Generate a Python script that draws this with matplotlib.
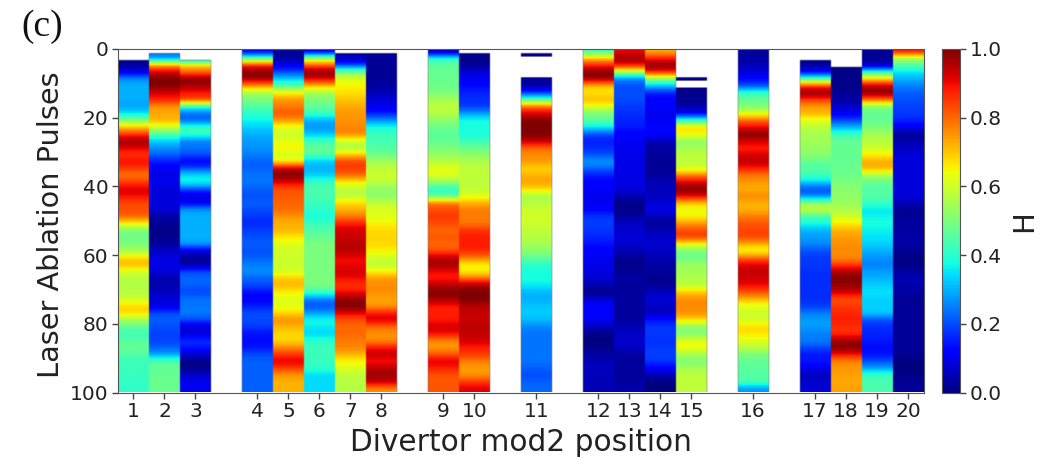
#!/usr/bin/env python3
# -*- coding=utf-8 -*-

import matplotlib
matplotlib.use('Agg')
import matplotlib.pyplot as plt
import numpy as np

# H value per 2-pulse bin (pulses 0-100)
c1 = [0.02,0.02,0.02,0.1,0.27,0.3,0.3,0.3,0.28,0.35, 0.5,0.7,0.85,0.98,0.92,0.85,0.9,0.85,0.78,0.85,
      0.92,0.9,0.83,0.83,0.8,0.65,0.5,0.48,0.5,0.55, 0.68,0.72,0.6,0.57,0.57,0.57,0.6,0.68,0.68,0.55,
      0.47,0.42,0.45,0.48,0.45,0.42,0.42,0.42,0.41,0.41]
c2 = [0.25,0.25,0.75,0.93,1.0,1.0,0.92,0.88,0.75,0.73, 0.72,0.6,0.45,0.33,0.27,0.22,0.15,0.1,0.09,0.1,
      0.08,0.08,0.08,0.08,0.03,0.02,0.01,0.01,0.03,0.06, 0.09,0.09,0.08,0.04,0.04,0.06,0.08,0.08,0.2,0.22,
      0.2,0.19,0.19,0.22,0.28,0.45,0.47,0.47,0.48,0.48]
c3 = [0.2,0.2,0.7,0.8,1.0,0.97,0.88,0.85,0.4,0.23, 0.22,0.42,0.42,0.25,0.24,0.2,0.11,0.2,0.35,0.38,
      0.2,0.08,0.1,0.28,0.3,0.3,0.3,0.3,0.28,0.08, 0.02,0.03,0.2,0.23,0.22,0.19,0.24,0.24,0.25,0.2,
      0.07,0.08,0.17,0.15,0.07,0.01,0.01,0.07,0.1,0.1]
c4 = [0.1,0.45,0.88,1.0,0.97,0.75,0.55,0.5,0.45,0.4, 0.37,0.33,0.3,0.28,0.27,0.25,0.22,0.22,0.24,0.24,
      0.22,0.2,0.22,0.2,0.18,0.16,0.19,0.2,0.22,0.2, 0.22,0.25,0.27,0.22,0.2,0.13,0.12,0.15,0.2,0.2,
      0.18,0.14,0.13,0.14,0.2,0.22,0.22,0.22,0.22,0.22]
c5 = [0.02,0.03,0.1,0.2,0.33,0.45,0.65,0.75,0.78,0.82, 0.75,0.62,0.6,0.62,0.66,0.6,0.65,0.95,1.0,0.92,
      0.82,0.82,0.8,0.8,0.75,0.72,0.72,0.66,0.62,0.6, 0.6,0.6,0.6,0.7,0.72,0.65,0.62,0.62,0.68,0.76,
      0.72,0.68,0.68,0.76,0.85,0.92,0.85,0.75,0.72,0.72]
c6 = [0.08,0.55,0.82,1.0,0.92,0.7,0.55,0.5,0.47,0.42, 0.3,0.27,0.32,0.42,0.48,0.45,0.32,0.3,0.33,0.42,
      0.44,0.44,0.42,0.4,0.38,0.42,0.45,0.47,0.5,0.5, 0.5,0.5,0.5,0.5,0.5,0.42,0.25,0.2,0.28,0.38,
      0.36,0.33,0.4,0.42,0.42,0.42,0.41,0.34,0.34,0.34]
c7 = [0.04,0.04,0.2,0.5,0.62,0.65,0.67,0.7,0.73,0.75, 0.75,0.77,0.77,0.6,0.55,0.7,0.84,0.85,0.8,0.65,
      0.58,0.57,0.68,0.72,0.78,0.88,0.93,0.93,0.95,0.95, 0.9,0.9,0.93,0.9,0.85,0.9,0.98,1.0,0.92,0.82,
      0.8,0.8,0.78,0.77,0.72,0.65,0.62,0.58,0.57,0.57]
c8 = [0.02,0.02,0.02,0.02,0.02,0.03,0.05,0.08,0.1,0.15, 0.27,0.38,0.42,0.43,0.45,0.48,0.55,0.58,0.6,0.58,
      0.52,0.52,0.58,0.62,0.62,0.65,0.68,0.68,0.68,0.65, 0.6,0.58,0.65,0.75,0.76,0.76,0.73,0.75,0.88,0.93,
      0.8,0.75,0.76,0.88,0.95,0.88,0.95,0.97,0.95,0.76]
c9 = [0.03,0.4,0.47,0.47,0.48,0.48,0.5,0.55,0.58,0.57, 0.52,0.48,0.46,0.47,0.5,0.53,0.57,0.63,0.62,0.53,
      0.4,0.45,0.78,0.83,0.85,0.83,0.8,0.82,0.8,0.83, 0.95,0.97,0.9,0.88,0.95,1.0,0.97,0.88,0.88,0.88,
      0.93,0.9,0.77,0.74,0.82,0.92,0.88,0.82,0.82,0.82]
c10 = [0.01,0.01,0.02,0.08,0.1,0.13,0.16,0.17,0.18,0.28, 0.38,0.38,0.38,0.42,0.48,0.52,0.56,0.58,0.58,0.58,
       0.58,0.62,0.72,0.78,0.78,0.78,0.86,0.88,0.88,0.87, 0.78,0.65,0.65,0.8,0.97,1.0,1.0,0.95,0.94,0.93,
       0.95,0.94,0.93,0.88,0.85,0.78,0.74,0.75,0.85,0.92]
c11 = [0.02,0.02,0.02,0.02,0.02,0.03,0.18,0.45,0.8,0.92, 1.0,1.0,1.0,0.95,0.8,0.76,0.75,0.68,0.72,0.74,
       0.68,0.55,0.57,0.6,0.6,0.6,0.58,0.57,0.55,0.52, 0.47,0.4,0.38,0.38,0.36,0.3,0.3,0.32,0.33,0.31,
       0.26,0.24,0.24,0.24,0.24,0.24,0.22,0.2,0.22,0.23]
c12 = [0.42,0.7,0.88,1.0,0.97,0.7,0.66,0.72,0.62,0.5, 0.46,0.36,0.2,0.15,0.17,0.2,0.28,0.22,0.15,0.12,
       0.11,0.1,0.1,0.12,0.18,0.18,0.18,0.16,0.14,0.12, 0.1,0.09,0.09,0.07,0.04,0.01,0.07,0.12,0.12,0.1,
       0.06,0.01,0.0,0.01,0.03,0.05,0.06,0.05,0.05,0.05]
c13 = [0.9,0.98,0.9,0.55,0.25,0.2,0.2,0.2,0.18,0.17, 0.16,0.15,0.12,0.1,0.1,0.09,0.09,0.09,0.09,0.09,
       0.08,0.05,0.01,0.01,0.03,0.06,0.07,0.08,0.07,0.05, 0.02,0.01,0.02,0.03,0.03,0.03,0.03,0.03,0.03,0.03,
       0.05,0.06,0.07,0.06,0.03,0.03,0.03,0.03,0.03,0.04]
c14 = [0.72,0.88,1.0,0.88,0.5,0.32,0.15,0.12,0.11,0.1, 0.1,0.14,0.12,0.05,0.03,0.03,0.02,0.02,0.03,0.05,
       0.05,0.06,0.07,0.1,0.05,0.02,0.05,0.07,0.07,0.06, 0.05,0.03,0.03,0.01,0.02,0.06,0.08,0.06,0.05,0.14,
       0.18,0.18,0.17,0.18,0.19,0.18,0.12,0.05,0.0,0.0]
c15 = [0.01,0.01,0.01,0.01,0.01,0.01,0.01,0.02,0.03,0.12, 0.4,0.68,0.65,0.52,0.55,0.58,0.58,0.6,0.78,0.92,
       1.0,0.92,0.7,0.63,0.65,0.75,0.83,0.85,0.63,0.5, 0.47,0.55,0.54,0.57,0.57,0.7,0.76,0.76,0.76,0.68,
       0.52,0.5,0.62,0.65,0.55,0.5,0.55,0.58,0.58,0.58]
c16 = [0.03,0.03,0.05,0.08,0.13,0.2,0.42,0.47,0.5,0.62, 0.8,0.9,1.0,0.93,0.87,0.92,0.95,0.88,0.78,0.75,
       0.72,0.77,0.72,0.72,0.78,0.82,0.84,0.84,0.72,0.63, 0.8,0.92,0.94,0.93,0.9,0.82,0.72,0.62,0.6,0.6,
       0.68,0.67,0.62,0.58,0.5,0.47,0.46,0.45,0.45,0.27]
c17 = [0.02,0.02,0.02,0.12,0.45,0.85,1.0,0.85,0.74,0.72, 0.62,0.58,0.55,0.55,0.53,0.52,0.47,0.45,0.43,0.33,
       0.2,0.25,0.52,0.6,0.43,0.38,0.3,0.28,0.26,0.2, 0.18,0.18,0.17,0.17,0.17,0.17,0.17,0.18,0.25,0.28,
       0.28,0.25,0.25,0.2,0.14,0.15,0.1,0.05,0.07,0.08]
c18 = [0.01,0.01,0.01,0.01,0.01,0.01,0.02,0.03,0.07,0.1, 0.2,0.3,0.42,0.47,0.47,0.47,0.47,0.48,0.48,0.5,
       0.52,0.52,0.54,0.56,0.6,0.66,0.72,0.74,0.76,0.76, 0.76,0.85,0.96,1.0,0.98,0.93,0.82,0.85,0.87,0.88,
       0.86,0.86,0.97,1.0,0.9,0.77,0.75,0.74,0.73,0.74]
c19 = [0.02,0.02,0.05,0.42,0.68,0.95,1.0,0.8,0.5,0.47, 0.47,0.5,0.55,0.57,0.6,0.65,0.73,0.72,0.55,0.47,
       0.45,0.45,0.42,0.35,0.37,0.38,0.36,0.35,0.33,0.3, 0.27,0.25,0.28,0.3,0.33,0.35,0.33,0.33,0.33,0.2,
       0.17,0.16,0.15,0.13,0.14,0.2,0.28,0.42,0.44,0.44]
c20 = [0.9,0.55,0.45,0.35,0.3,0.25,0.22,0.2,0.19,0.18, 0.16,0.1,0.02,0.04,0.06,0.08,0.08,0.08,0.08,0.08,
       0.08,0.08,0.05,0.02,0.02,0.03,0.03,0.04,0.03,0.02, 0.0,0.01,0.03,0.05,0.04,0.03,0.02,0.02,0.02,0.02,
       0.02,0.02,0.02,0.02,0.02,0.0,0.0,0.01,0.02,0.02]

columns = [c1,c2,c3,c4,c5,c6,c7,c8,c9,c10,c11,c12,c13,c14,c15,c16,c17,c18,c19,c20]
tick_labels = [str(i) for i in range(1,21)]
# slot of each measured position on the x axis (empty slots stay white)
slots = [0,1,2,4,5,6,7,8,10,11,13,15,16,17,18,20,22,23,24,25]
# pulses without data: position, from pulse, to pulse
gaps = [(1,0,3.5),(2,0,1.5),(3,0,3.5),(5,0,0.5),(7,0,1.5),(8,0,1.5),(10,0,1.5),
        (11,0,1.5),(11,2.5,8.5),(15,0,8.5),(15,9.5,11.5),(17,0,3.5),(18,0,5.5)]

n_slots = 26
sub = 20    # repeat columns so the blur only acts along the pulses
kernel = np.hanning(11)
kernel = kernel/kernel.sum()    # the reference is a soft scan, blur the bins a little

grid = np.full((200,n_slots),np.nan)
for s,c in zip(slots,columns):
    rows = np.repeat(c,4)
    grid[:,s] = np.convolve(np.pad(rows,5,mode='edge'),kernel,mode='valid')
for pos,p0,p1 in gaps:
    grid[int(p0*2):int(p1*2),slots[pos-1]] = np.nan
grid = np.repeat(grid,sub,axis=1)

W,H = 1046,459
fig = plt.figure(figsize=(W/100,H/100),dpi=100)
ax = fig.add_axes([118/W,1-392.5/H,(923.5-118)/W,(392.5-49)/H])
im = ax.imshow(np.ma.masked_invalid(grid),cmap='jet',vmin=0,vmax=1,aspect='auto',
               interpolation='bilinear',extent=(-0.5,n_slots-0.5,100,0))
ax.set_xticks(slots)
ax.set_xticklabels(tick_labels)
ax.set_yticks(range(0,101,20))
ax.tick_params(labelsize=14.5,length=4,width=1,color='#444444',labelcolor='#222222',pad=3)
for sp in ax.spines.values():
    sp.set_color('#555555')
ax.set_xlabel('Divertor mod2 position',fontsize=21.3,color='#222222',labelpad=5)
ax.set_ylabel('Laser Ablation Pulses',fontsize=20.7,color='#222222',labelpad=3,y=0.488)

cax = fig.add_axes([942/W,1-392.5/H,18/W,(392.5-49)/H])
cb = fig.colorbar(im,cax=cax,ticks=np.arange(0,1.01,0.2))
cb.ax.tick_params(labelsize=14.5,length=4,width=1,color='#444444',labelcolor='#222222',pad=3)
cb.outline.set_edgecolor('#555555')
cb.set_label('H',fontsize=21,color='#222222',labelpad=6)

fig.text(21/W,1-27/H,'(c)',family='Liberation Serif',fontsize=27,va='center',ha='left',color='#111111')

fig.savefig('out.png',dpi=100)
